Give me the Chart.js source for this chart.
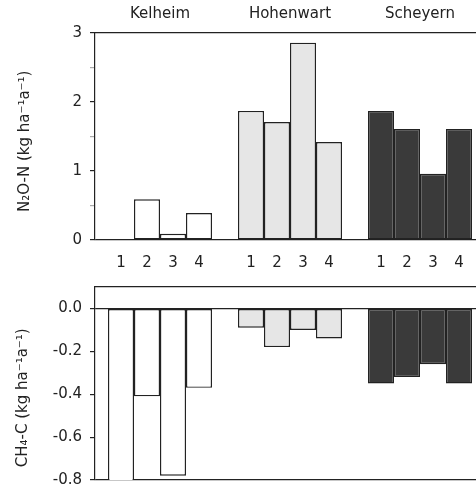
<!DOCTYPE html>
<html>
<head>
<meta charset="utf-8">
<script src="https://cdn.jsdelivr.net/npm/chart.js@4"></script>
<style>
  html, body { margin: 0; padding: 0; background: #fff; overflow: hidden; }
  #wrap { position: relative; width: 476px; height: 497px; overflow: hidden; }
  canvas { position: absolute; left: 0; }
  #n2o { top: 0; }
  #ch4 { top: 270px; }
</style>
</head>
<body>
<div id="wrap">
  <canvas id="n2o" width="500" height="275"></canvas>
  <canvas id="ch4" width="500" height="227"></canvas>
</div>
<script>
// sites and treatments
var sites = ['Kelheim', 'Hohenwart', 'Scheyern'];
var treatments = ['1', '2', '3', '4'];
var siteColors = ['#ffffff', '#e6e6e6', '#3a3a3a'];

// N2O-N, one array per treatment, values for Kelheim, Hohenwart, Scheyern
var n2o1 = [0.0, 1.87, 1.87];
var n2o2 = [0.59, 1.71, 1.61];
var n2o3 = [0.09, 2.86, 0.96];
var n2o4 = [0.39, 1.42, 1.61];

// CH4-C
var ch41 = [-0.9, -0.09, -0.35];
var ch42 = [-0.41, -0.18, -0.32];
var ch43 = [-0.78, -0.10, -0.26];
var ch44 = [-0.37, -0.14, -0.35];

var n2oTicks = [0, 1, 2, 3];
var ch4Ticks = [-0.8, -0.6, -0.4, -0.2, 0.0];

const FONT = {family: "'DejaVu Sans', sans-serif", size: 15};
const INK = '#222';

function makeDatasets(series) {
    return series.map((values, i) => ({
        label: treatments[i],
        data: values,
        backgroundColor: siteColors,
        borderColor: '#222',
        borderWidth: 1.4,
        borderSkipped: false,
        categoryPercentage: 0.8,
        barPercentage: 1.0
    }));
}

// numbers 1..4 under every bar of the upper panel
const treatmentLabels = {
    id: 'treatmentLabels',
    afterDraw(chart) {
        const ctx = chart.ctx;
        ctx.save();
        ctx.font = FONT.size + 'px ' + FONT.family;
        ctx.fillStyle = INK;
        ctx.textAlign = 'center';
        ctx.textBaseline = 'middle';
        chart.data.datasets.forEach((ds, i) => {
            chart.getDatasetMeta(i).data.forEach(bar => {
                ctx.fillText(ds.label, bar.x, chart.chartArea.bottom + 23);
            });
        });
        ctx.restore();
    }
};

new Chart(document.getElementById('n2o'), {
    type: 'bar',
    data: {
        labels: sites,
        datasets: makeDatasets([n2o1, n2o2, n2o3, n2o4])
    },
    options: {
        responsive: false,
        animation: false,
        layout: {padding: {left: 0, right: 15, top: 0, bottom: 35}},
        plugins: {legend: {display: false}, tooltip: {enabled: false}},
        scales: {
            x: {
                position: 'top',
                grid: {drawOnChartArea: false, drawTicks: false},
                border: {display: true, color: INK, width: 1.2},
                ticks: {font: FONT, color: INK, padding: 10},
                afterFit: s => { s.height = 33; }
            },
            y: {
                min: 0,
                max: 3,
                ticks: {
                    stepSize: 0.5,
                    font: FONT,
                    color: INK,
                    padding: 8,
                    callback: v => (n2oTicks.includes(v) ? String(v) : '')
                },
                grid: {
                    tickLength: 5,
                    color: c => (c.tick && c.tick.value === 0 ? INK : 'rgba(0,0,0,0)'),
                    lineWidth: 1.2,
                    tickColor: c => (n2oTicks.includes(c.tick.value) ? INK : '#aaa')
                },
                border: {display: true, color: INK, width: 1.2},
                title: {
                    display: true,
                    text: 'N\u2082O-N (kg ha\u207B\u00B9a\u207B\u00B9)  ',
                    font: FONT,
                    color: INK,
                    padding: {top: 16, bottom: 0}
                },
                afterFit: s => { s.width = 95; }
            }
        }
    },
    plugins: [treatmentLabels]
});

new Chart(document.getElementById('ch4'), {
    type: 'bar',
    data: {
        labels: sites,
        datasets: makeDatasets([ch41, ch42, ch43, ch44])
    },
    options: {
        responsive: false,
        animation: false,
        layout: {padding: {left: 0, right: 15, top: 10, bottom: 9}},
        plugins: {legend: {display: false}, tooltip: {enabled: false}},
        scales: {
            x: {
                position: 'top',
                grid: {drawOnChartArea: false, drawTicks: false},
                border: {display: true, color: INK, width: 1.2},
                ticks: {display: false},
                afterFit: s => { s.height = 0; }
            },
            y: {
                min: -0.8,
                max: 0.1,
                afterBuildTicks: s => { s.ticks = ch4Ticks.map(v => ({value: v})); },
                ticks: {
                    font: FONT,
                    color: INK,
                    padding: 8,
                    callback: v => Number(v).toFixed(1)
                },
                grid: {
                    tickLength: 5,
                    lineWidth: 1.2,
                    color: c => (c.tick && (c.tick.value === 0 || c.tick.value === -0.8) ? INK : 'rgba(0,0,0,0)'),
                    tickColor: INK
                },
                border: {display: true, color: INK, width: 1.2},
                title: {
                    display: true,
                    text: 'CH\u2084-C (kg ha\u207B\u00B9a\u207B\u00B9)      ',
                    font: FONT,
                    color: INK,
                    padding: {top: 14, bottom: 0}
                },
                afterFit: s => { s.width = 95; }
            }
        }
    }
});
</script>
</body>
</html>
